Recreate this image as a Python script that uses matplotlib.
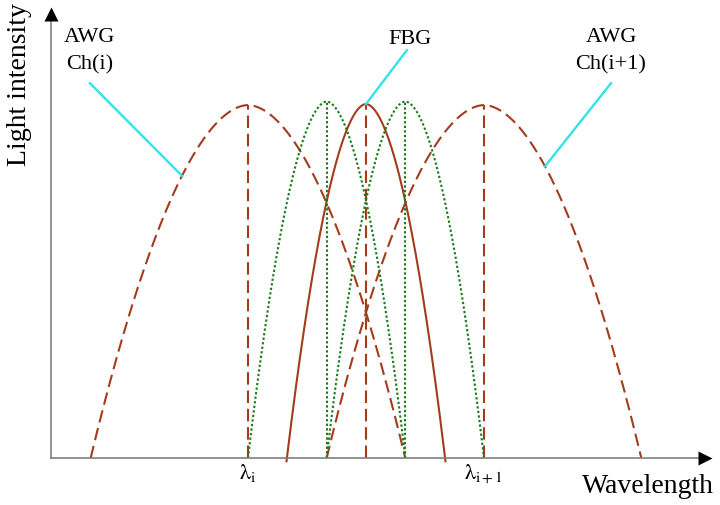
import numpy as np
import matplotlib.pyplot as plt

plt.rcParams['font.family'] = ['Liberation Serif', 'DejaVu Serif']
plt.rcParams['mathtext.fontset'] = 'stix'

# spectra: centre wavelength, half width at the base, peak intensity (arbitrary units)
awg_centers = [0.0, 2.0]
awg_halfwidth = 1.333
awg_peak = 1.0
fbg_center = 1.0
fbg_halfwidth = 0.67
fbg_peak = 1.003
reflect_centers = [0.667, 1.333]
reflect_halfwidth = 0.667
reflect_peak = 1.01

tick_positions = [0.0, 2.0]
tick_labels = [r'$\mathrm{\lambda_{i}}$', r'$\mathrm{\lambda_{i+1}}$']

# label text, label anchor, x where the leader meets its curve
labels = [
    (("AWG", "Ch(i)"), (-1.339, 1.062), -0.559, 0),
    (("AWG", "Ch(i+1)"), (3.076, 1.062), 2.517, 1),
]

BROWN = '#A33C1C'
GREEN = '#1B7B1B'
CYAN = '#35E2E8'
AXIS = '#808080'
SHAPE = 1.85


def profile(center, halfwidth, peak, ext=1.0, n=300):
    u = np.linspace(-ext, ext, n)
    return center + u * halfwidth, peak * (1 - np.abs(u) ** SHAPE)


def value_at(x, center, halfwidth, peak):
    u = (x - center) / halfwidth
    return peak * (1 - abs(u) ** SHAPE)


fig = plt.figure(figsize=(7.2, 5.05), dpi=100)
ax = fig.add_axes([51 / 720, 47 / 505, 661 / 720, 451 / 505])
xmin, xmax = -1.669, 3.932
ymin, ymax = 0.0, 1.278
ax.set_xlim(xmin, xmax)
ax.set_ylim(ymin, ymax)
for s in ax.spines.values():
    s.set_visible(False)

dash = (6, 2.8)
dots = (0, (1.1, 1.1))
# AWG channels
for c in awg_centers:
    x, y = profile(c, awg_halfwidth, awg_peak)
    ax.plot(x, y, color=BROWN, lw=1.5, dashes=dash)
    ax.plot([c, c], [0, awg_peak], color=BROWN, lw=1.5, dashes=dash)

# FBG
x, y = profile(fbg_center, fbg_halfwidth, fbg_peak, ext=1.005)
ax.plot(x, y, color=BROWN, lw=1.5, clip_on=False)
ax.plot([fbg_center, fbg_center], [0, fbg_peak], color=BROWN, lw=1.5, dashes=dash)

# shifted reflection peaks
for c in reflect_centers:
    x, y = profile(c, reflect_halfwidth, reflect_peak)
    ax.plot(x, y, color=GREEN, lw=1.5, linestyle=dots)
    ax.plot([c, c], [0, reflect_peak], color=GREEN, lw=1.5, linestyle=dots)

# leaders and labels
for (top, bottom), (lx, ly), cx, i in labels:
    cy = value_at(cx, awg_centers[i], awg_halfwidth, awg_peak)
    ax.plot([lx, cx], [ly, cy], color=CYAN, lw=1.7)
    ax.text(lx, 1.178, top, ha='center', va='baseline', fontsize=16)
    ax.text(lx, 1.102, bottom, ha='center', va='baseline', fontsize=16)

ax.plot([1.347, fbg_center], [1.156, fbg_peak], color=CYAN, lw=1.7)
ax.text(1.373, 1.172, "FBG", ha='center', va='baseline', fontsize=16)

# axes with arrow heads
ax.plot([xmin, xmax - 0.1], [0, 0], color=AXIS, lw=1.2, clip_on=False)
ax.plot([xmin, xmin], [0, ymax - 0.03], color=AXIS, lw=1.2, clip_on=False)
ax.plot(xmax - 7 / 118, 0, marker='>', ms=10, color='black', mec='none', clip_on=False)
ax.plot(xmin, ymax - 7 / 353, marker='^', ms=10, color='black', mec='none', clip_on=False)

ax.set_xticks(tick_positions, tick_labels)
ax.set_yticks([])
ax.tick_params(axis='x', length=0, pad=3, labelsize=16)

ax.text(-1.94, 1.057, "Light intensity", rotation=90, ha='center', va='center',
        fontsize=20, clip_on=False)
ax.text(3.39, -0.099, "Wavelength", ha='center', va='baseline', fontsize=20,
        clip_on=False)

fig.savefig("out.png", dpi=100)
